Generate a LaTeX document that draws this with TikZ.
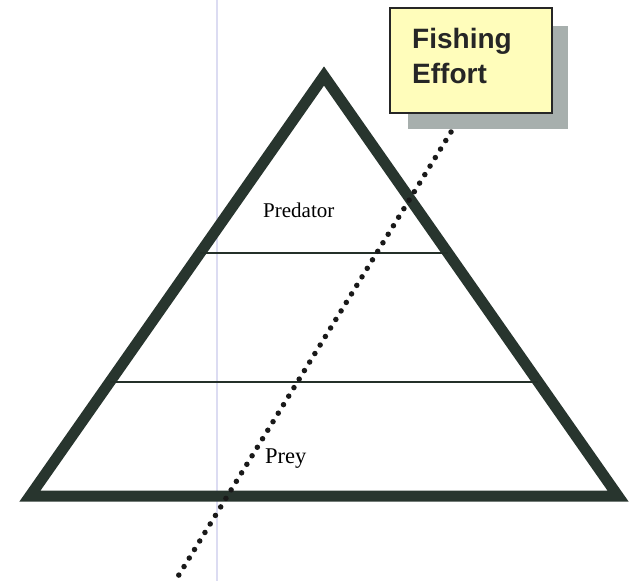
\documentclass[tikz,border=0pt]{standalone}
\usepackage{fontspec}
\setmainfont{Liberation Serif}
\newfontfamily\boxfont{Liberation Sans}
\definecolor{pyr}{HTML}{28352E}
\definecolor{boxfill}{HTML}{FFFDBB}
\definecolor{shade}{HTML}{A7AFAD}
\definecolor{scanline}{HTML}{DCDCF2}
\tikzset{
  pyredge/.style={draw=pyr, line width=11pt, line join=miter, miter limit=20},
  levelline/.style={draw=pyr!90!black, line width=2pt},
  fishbox/.style={draw=black!85, line width=2.2pt, fill=boxfill, minimum width=162pt, minimum height=105pt, inner sep=0pt},
  fishshadow/.style={fill=shade, draw=none, minimum width=160pt, minimum height=103pt, inner sep=0pt},
  fishtext/.style={font=\boxfont\bfseries\fontsize{28}{34}\selectfont, text=black!85, inner sep=0pt, anchor=base west},
  lvltext/.style={font=\fontsize{21}{25}\selectfont, inner sep=0pt, anchor=base west},
  effortline/.style={draw=black!90, line width=5.5pt, line cap=round, dash pattern=on 0pt off 10pt},
}
\begin{document}
\begin{tikzpicture}[x=1pt,y=-1pt]
\useasboundingbox (0,0) rectangle (629,581);
% faint scan line
\draw[scanline, line width=1.5pt] (217,0) -- (217,581);
% pyramid
\coordinate (apex) at (324,76);
\coordinate (bl) at (30,496);
\coordinate (br) at (618,496);
\draw[pyredge] (apex) -- (bl) -- (br) -- cycle;
\coordinate (l1a) at (200,253);
\coordinate (l1b) at (448,253);
\coordinate (l2a) at (110,382);
\coordinate (l2b) at (538,382);
\draw[levelline] (l1a) -- (l1b);
\draw[levelline] (l2a) -- (l2b);
% labels
\node[lvltext] (pred) at (263,217) {Predator};
\node[lvltext, font=\fontsize{22.5}{26}\selectfont] (prey) at (265,463) {Prey};
% fishing effort box
\node[fishshadow] (sh) at (488,77) {};
\node[fishbox] (fe) at (471,60.5) {};
\node[fishtext] (fe1) at (412,48) {Fishing};
\node[fishtext] (fe2) at (412,83) {Effort};
% dotted effort line
\coordinate (dtop) at (451,132);
\coordinate (dbot) at (177,578);
\draw[effortline] (dtop) -- (dbot);
\end{tikzpicture}
\end{document}
